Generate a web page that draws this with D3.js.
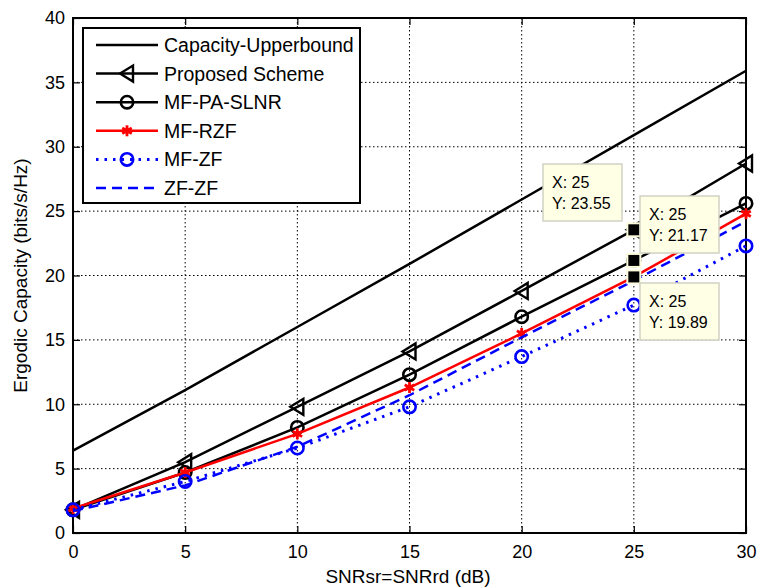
<!DOCTYPE html>
<html>
<head>
<meta charset="utf-8">
<script src="https://cdn.jsdelivr.net/npm/d3@7"></script>
<style>
  body { margin: 0; background: #fff; }
  text { font-family: "Liberation Sans", Arial, sans-serif; }
</style>
</head>
<body>
<script>
const snr = [0, 5, 10, 15, 20, 25, 30];
const upperBound = [6.4, 11.1, 16.0, 20.9, 25.9, 30.9, 35.9];
const proposed = [1.8, 5.5, 9.8, 14.1, 18.8, 23.55, 28.7];
const mfPaSlnr = [1.8, 4.7, 8.2, 12.3, 16.8, 21.17, 25.6];
const mfRzf = [1.9, 4.7, 7.7, 11.3, 15.5, 19.89, 24.8];
const mfZf = [1.8, 4.0, 6.6, 9.8, 13.7, 17.7, 22.3];
const zfZf = [1.7, 3.7, 6.7, 10.7, 15.2, 19.6, 24.2];
const xTicks = [0, 5, 10, 15, 20, 25, 30];
const yTicks = [0, 5, 10, 15, 20, 25, 30, 35, 40];

// datatips at x = 25
const tips = [
  {x: 25, y: 23.55, box: [543, 164]},
  {x: 25, y: 21.17, box: [640, 196]},
  {x: 25, y: 19.89, box: [640, 283]}
];

const w = 760, h = 588;
const pLeft = 73, pRight = 746, pTop = 18, pBottom = 533;

const x = d3.scaleLinear().domain([0, 30]).range([pLeft, pRight]);
const y = d3.scaleLinear().domain([0, 40]).range([pBottom, pTop]);

const svg = d3.select("body").append("svg")
  .attr("width", w).attr("height", h);

// grid
svg.append("g").selectAll("line").data(xTicks.slice(1, -1)).enter().append("line")
  .attr("x1", d => x(d)).attr("x2", d => x(d)).attr("y1", pTop).attr("y2", pBottom)
  .attr("stroke", "#000").attr("stroke-width", 1).attr("stroke-dasharray", "1.5,2.5");
svg.append("g").selectAll("line").data(yTicks.slice(1, -1)).enter().append("line")
  .attr("y1", d => y(d)).attr("y2", d => y(d)).attr("x1", pLeft).attr("x2", pRight)
  .attr("stroke", "#000").attr("stroke-width", 1).attr("stroke-dasharray", "1.5,2.5");

// axes with inward ticks
const tick = 7;
const xAxisB = d3.axisBottom(x).tickValues(xTicks).tickSizeInner(-tick).tickSizeOuter(0).tickPadding(12);
const yAxisL = d3.axisLeft(y).tickValues(yTicks).tickSizeInner(-tick).tickSizeOuter(0).tickPadding(14);
const gx = svg.append("g").attr("transform", `translate(0,${pBottom})`).call(xAxisB);
const gy = svg.append("g").attr("transform", `translate(${pLeft},0)`).call(yAxisL);
svg.append("g").attr("transform", `translate(0,${pTop})`)
  .call(d3.axisTop(x).tickValues(xTicks).tickSizeInner(-tick).tickSizeOuter(0).tickFormat(""));
svg.append("g").attr("transform", `translate(${pRight},0)`)
  .call(d3.axisRight(y).tickValues(yTicks).tickSizeInner(-tick).tickSizeOuter(0).tickFormat(""));
svg.selectAll(".domain").remove();
svg.selectAll(".tick line").attr("stroke", "#000").attr("stroke-width", 1.2);
gx.selectAll("text").attr("font-size", 18).attr("fill", "#000").attr("dy", "0.71em");
gy.selectAll("text").attr("font-size", 18).attr("fill", "#000").attr("dx", "6");

svg.append("rect").attr("x", pLeft).attr("y", pTop)
  .attr("width", pRight - pLeft).attr("height", pBottom - pTop)
  .attr("fill", "none").attr("stroke", "#000").attr("stroke-width", 2);

// series
const series = [
  {name: "Capacity-Upperbound", values: upperBound, color: "#000", dash: null, marker: null},
  {name: "Proposed Scheme", values: proposed, color: "#000", dash: null, marker: "tri"},
  {name: "MF-PA-SLNR", values: mfPaSlnr, color: "#000", dash: null, marker: "circle"},
  {name: "MF-RZF", values: mfRzf, color: "#ff0000", dash: null, marker: "star"},
  {name: "MF-ZF", values: mfZf, color: "#0000ff", dash: "2.5,6", marker: "circle"},
  {name: "ZF-ZF", values: zfZf, color: "#0000ff", dash: "10,6", marker: null}
];

const line = d3.line().x(d => x(d[0])).y(d => y(d[1]));

function drawMarker(g, type, cx, cy, color) {
  if (type === "tri") {
    g.append("path")
      .attr("d", `M${cx - 7},${cy} L${cx + 6},${cy - 8} L${cx + 6},${cy + 8} Z`)
      .attr("fill", "none").attr("stroke", color).attr("stroke-width", 2.4);
  } else if (type === "circle") {
    g.append("circle").attr("cx", cx).attr("cy", cy).attr("r", 6.2)
      .attr("fill", "none").attr("stroke", color).attr("stroke-width", 2.6);
  } else if (type === "star") {
    const r = 5.5;
    [0, 60, 120].forEach(a => {
      const rad = a * Math.PI / 180 + Math.PI / 2;
      g.append("line")
        .attr("x1", cx - r * Math.cos(rad)).attr("y1", cy - r * Math.sin(rad))
        .attr("x2", cx + r * Math.cos(rad)).attr("y2", cy + r * Math.sin(rad))
        .attr("stroke", color).attr("stroke-width", 2.8);
    });
    g.append("circle").attr("cx", cx).attr("cy", cy).attr("r", 3).attr("fill", color);
  }
}

const plot = svg.append("g");
series.forEach(s => {
  const pts = snr.map((v, i) => [v, s.values[i]]);
  plot.append("path").datum(pts).attr("d", line)
    .attr("fill", "none").attr("stroke", s.color)
    .attr("stroke-width", s.dash === "2.5,6" ? 3 : 2.5)
    .attr("stroke-dasharray", s.dash);
  if (s.marker) {
    pts.forEach(p => drawMarker(plot, s.marker, x(p[0]), y(p[1]), s.color));
  }
});

// datatips
tips.forEach(t => {
  svg.append("rect").attr("x", x(t.x) - 6.5).attr("y", y(t.y) - 6.5)
    .attr("width", 13).attr("height", 13)
    .attr("fill", "#000").attr("stroke", "#fbfbdc").attr("stroke-width", 2);
});
tips.forEach(t => {
  const g = svg.append("g").attr("transform", `translate(${t.box[0]},${t.box[1]})`);
  g.append("rect").attr("width", 79).attr("height", 57)
    .attr("fill", "#ffffe6").attr("stroke", "#d2d2c4").attr("stroke-width", 1.5);
  g.append("text").attr("x", 9).attr("y", 24).attr("font-size", 16).text(`X: ${t.x}`);
  g.append("text").attr("x", 9).attr("y", 45).attr("font-size", 16).text(`Y: ${t.y.toFixed(2)}`);
});

// legend
const lg = svg.append("g").attr("transform", "translate(83,28)");
lg.append("rect").attr("width", 277).attr("height", 175)
  .attr("fill", "#fff").attr("stroke", "#000").attr("stroke-width", 2);
series.forEach((s, i) => {
  const ly = 17 + i * 28.6;
  lg.append("line").attr("x1", 13).attr("x2", 75).attr("y1", ly).attr("y2", ly)
    .attr("stroke", s.color).attr("stroke-width", s.dash === "2.5,6" ? 3 : 2.5)
    .attr("stroke-dasharray", s.dash);
  if (s.marker) drawMarker(lg, s.marker, 44, ly, s.color);
  lg.append("text").attr("x", 81).attr("y", ly + 7).attr("font-size", 19.5).text(s.name);
});

// axis titles
svg.append("text").attr("x", 408).attr("y", 583)
  .attr("text-anchor", "middle").attr("font-size", 19).text("SNRsr=SNRrd (dB)");
svg.append("text").attr("transform", `translate(27,${(pTop + pBottom) / 2}) rotate(-90)`)
  .attr("text-anchor", "middle").attr("font-size", 19).text("Ergodic Capacity (bits/s/Hz)");
</script>
</body>
</html>
